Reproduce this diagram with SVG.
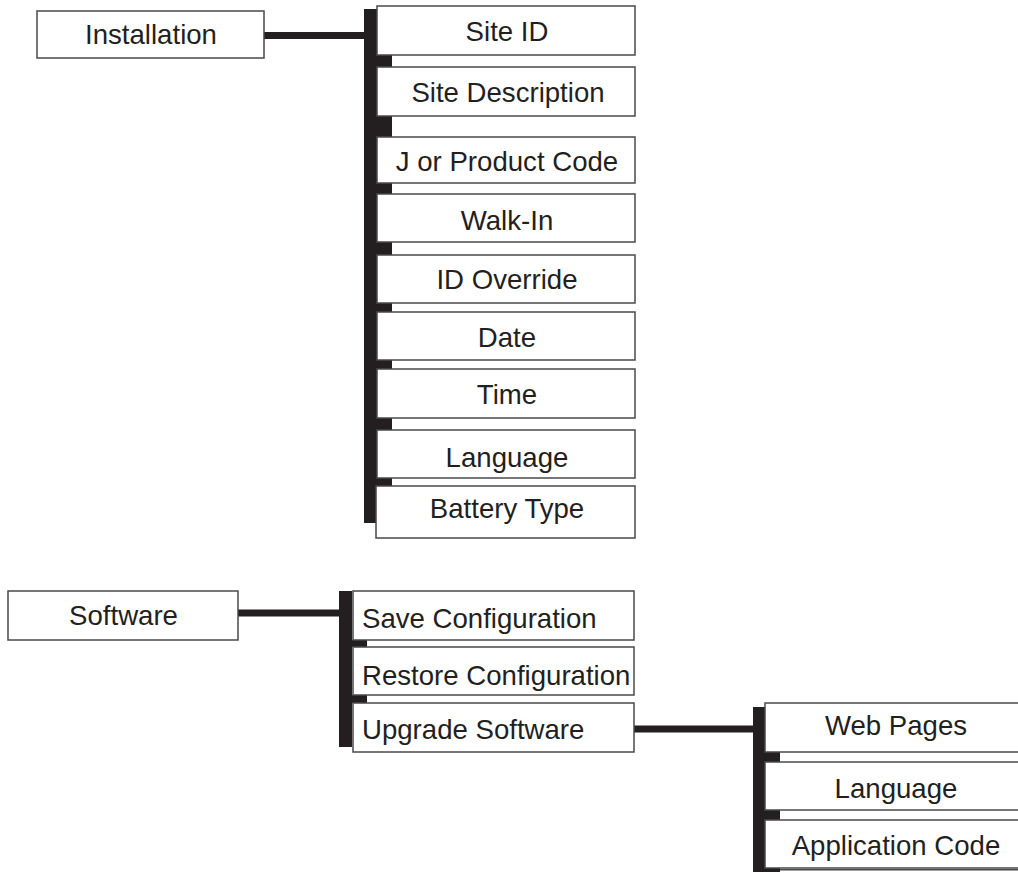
<svg xmlns="http://www.w3.org/2000/svg" width="1018" height="872" viewBox="0 0 1018 872">
<style>
.box{fill:#fff;stroke:#4a4a4a;stroke-width:1.5}
.t{font-family:"Liberation Sans",Arial,sans-serif;font-size:27.6px;fill:#231f20}
.c{text-anchor:middle}
.bar{fill:#231f20}
.ln{stroke:#231f20;stroke-width:7;fill:none}
</style>
<rect width="1018" height="872" fill="#fff"/>
<g id="connectors">
<line class="ln" x1="264" y1="35.5" x2="366" y2="35.5"/>
<rect class="bar" x="364" y="9" width="13" height="514"/>
<rect class="bar" x="376" y="55" width="16" height="12"/>
<rect class="bar" x="376" y="116" width="16" height="21"/>
<rect class="bar" x="376" y="183" width="16" height="11"/>
<rect class="bar" x="376" y="242" width="16" height="13"/>
<rect class="bar" x="376" y="303" width="16" height="9"/>
<rect class="bar" x="376" y="360" width="16" height="9"/>
<rect class="bar" x="376" y="418" width="16" height="12"/>
<rect class="bar" x="376" y="478" width="16" height="8"/>
<line class="ln" x1="238" y1="613" x2="341" y2="613"/>
<rect class="bar" x="339" y="591" width="13" height="156"/>
<rect class="bar" x="352" y="640" width="15" height="7"/>
<rect class="bar" x="352" y="695" width="15" height="8"/>
<line class="ln" x1="634" y1="729" x2="755" y2="729"/>
<rect class="bar" x="753" y="707" width="12" height="165"/>
<rect class="bar" x="764" y="752" width="16" height="10"/>
<rect class="bar" x="764" y="810" width="16" height="10"/>
<rect class="bar" x="764" y="868" width="16" height="4"/>
<line x1="780" y1="869.75" x2="1018" y2="869.75" stroke="#4a4a4a" stroke-width="1.5"/>
</g>
<g id="installation"><rect class="box" x="37" y="11" width="227" height="47"/><text class="t c" x="151" y="44">Installation</text></g>
<g id="site-id"><rect class="box" x="377" y="6" width="258" height="49"/><text class="t c" x="507" y="41">Site ID</text></g>
<g id="site-description"><rect class="box" x="377" y="67" width="258" height="49"/><text class="t c" x="508" y="101.5">Site Description</text></g>
<g id="j-product-code"><rect class="box" x="377" y="137" width="258" height="46"/><text class="t c" x="507" y="170.5">J or Product Code</text></g>
<g id="walk-in"><rect class="box" x="377" y="194" width="258" height="48"/><text class="t c" x="507" y="230">Walk-In</text></g>
<g id="id-override"><rect class="box" x="377" y="255" width="258" height="48"/><text class="t c" x="507" y="289">ID Override</text></g>
<g id="date"><rect class="box" x="377" y="312" width="258" height="48"/><text class="t c" x="507" y="346.5">Date</text></g>
<g id="time"><rect class="box" x="377" y="369" width="258" height="49"/><text class="t c" x="507" y="404">Time</text></g>
<g id="language"><rect class="box" x="377" y="430" width="258" height="48"/><text class="t c" x="507" y="467">Language</text></g>
<g id="battery-type"><rect class="box" x="376" y="486" width="259" height="52"/><text class="t c" x="507" y="518">Battery Type</text></g>
<g id="software"><rect class="box" x="8" y="591" width="230" height="49"/><text class="t c" x="123.5" y="625">Software</text></g>
<g id="save-configuration"><rect class="box" x="353" y="591" width="281" height="49"/><text class="t" x="362" y="628">Save Configuration</text></g>
<g id="restore-configuration"><rect class="box" x="353" y="647" width="281" height="48"/><text class="t" x="362" y="685">Restore Configuration</text></g>
<g id="upgrade-software"><rect class="box" x="353" y="703" width="281" height="49"/><text class="t" x="362" y="739">Upgrade Software</text></g>
<g id="web-pages"><rect class="box" x="765" y="703" width="270" height="49"/><text class="t c" x="896" y="735">Web Pages</text></g>
<g id="sw-language"><rect class="box" x="765" y="762" width="270" height="48"/><text class="t c" x="896" y="798">Language</text></g>
<g id="application-code"><rect class="box" x="765" y="820" width="270" height="48"/><text class="t c" x="896" y="855">Application Code</text></g>
</svg>
